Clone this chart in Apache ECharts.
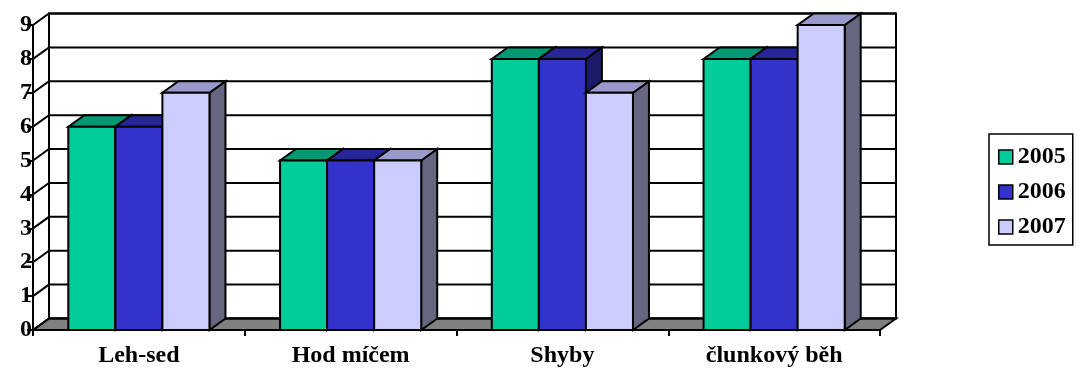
<!DOCTYPE html>
<html>
<head>
<meta charset="utf-8">
<script src="https://cdn.jsdelivr.net/npm/echarts@6/dist/echarts.min.js"></script>
<style>
  html, body { margin: 0; padding: 0; background: #fff; }
  #chart { width: 1079px; height: 371px; }
</style>
</head>
<body>
<div id="chart"></div>
<script>
// Test results per discipline and year
const categories = ['Leh-sed', 'Hod míčem', 'Shyby', 'člunkový běh'];
const years = ['2005', '2006', '2007'];
const values2005 = [6, 5, 8, 8];
const values2006 = [6, 5, 8, 8];
const values2007 = [7, 5, 7, 9];
const yTicks = [0, 1, 2, 3, 4, 5, 6, 7, 8, 9];

// Face colours: front, top, side
const palettes = [
  { front: '#00CC99', top: '#009973', side: '#00664D' },
  { front: '#3333CC', top: '#262699', side: '#1A1A66' },
  { front: '#CCCCFF', top: '#9999CC', side: '#666680' }
];

// Depth offset of the 3D projection (pixels)
const DX = 16;
const DY = -11.5;
const LW = 2;
const FONT = 'Liberation Serif, Times New Roman, serif';

const chart = echarts.init(document.getElementById('chart'), null, { renderer: 'canvas' });

// Back wall, floor and gridlines (one gridline per tick value)
function wallRender(params, api) {
  const cs = params.coordSys;
  const L = cs.x, R = cs.x + cs.width;
  const bottom = api.coord([0, 0])[1];
  const top = cs.y;
  const y = api.coord([0, api.value(0)])[1];
  const children = [];
  if (params.dataIndex === 0) {
    children.push({
      type: 'polygon',
      shape: { points: [[L + DX, top + DY], [R + DX, top + DY], [R + DX, bottom + DY], [L + DX, bottom + DY]] },
      style: { fill: '#ffffff', stroke: '#000', lineWidth: LW }
    });
    children.push({
      type: 'polygon',
      shape: { points: [[L, bottom], [R, bottom], [R + DX, bottom + DY], [L + DX, bottom + DY]] },
      style: { fill: '#808080', stroke: '#000', lineWidth: LW }
    });
  }
  children.push({
    type: 'polyline',
    shape: { points: [[L, y], [L + DX, y + DY], [R + DX, y + DY]] },
    style: { fill: null, stroke: '#000', lineWidth: LW }
  });
  return { type: 'group', children };
}

function barRender(idx) {
  const pal = palettes[idx];
  return function (params, api) {
    const cat = api.value(0);
    const v = api.value(1);
    const base = api.coord([cat, 0]);
    const topPt = api.coord([cat, v]);
    const band = api.size([1, 0])[0];
    const w = band / 4.5;
    const x0 = base[0] - 1.5 * w + idx * w;
    const x1 = x0 + w;
    const yb = base[1], yt = topPt[1];
    const stroke = { stroke: '#000', lineWidth: LW, lineJoin: 'miter' };
    return {
      type: 'group',
      children: [
        { type: 'polygon', shape: { points: [[x1, yt], [x1 + DX, yt + DY], [x1 + DX, yb + DY], [x1, yb]] },
          style: Object.assign({ fill: pal.side }, stroke) },
        { type: 'polygon', shape: { points: [[x0, yt], [x1, yt], [x1 + DX, yt + DY], [x0 + DX, yt + DY]] },
          style: Object.assign({ fill: pal.top }, stroke) },
        { type: 'polygon', shape: { points: [[x0, yb], [x0, yt], [x1, yt], [x1, yb]] },
          style: Object.assign({ fill: pal.front }, stroke) }
      ]
    };
  };
}

const seriesValues = [values2005, values2006, values2007];

const option = {
  animation: false,
  backgroundColor: '#ffffff',
  grid: { left: 33, right: 199, top: 25, bottom: 41, containLabel: false },
  xAxis: {
    type: 'category',
    data: categories,
    boundaryGap: true,
    axisLine: { show: true, lineStyle: { color: '#000', width: LW } },
    axisTick: { show: true, length: 6, lineStyle: { color: '#000', width: LW } },
    axisLabel: { color: '#000', fontFamily: FONT, fontWeight: 'bold', fontSize: 24, margin: 14 },
    splitLine: { show: false }
  },
  yAxis: {
    type: 'value',
    min: yTicks[0],
    max: yTicks[yTicks.length - 1],
    interval: 1,
    axisLine: { show: true, lineStyle: { color: '#000', width: LW } },
    axisTick: { show: true, length: 6, lineStyle: { color: '#000', width: LW } },
    axisLabel: { color: '#000', fontFamily: FONT, fontWeight: 'bold', fontSize: 24, margin: 1 },
    splitLine: { show: false }
  },
  legend: {
    orient: 'vertical',
    left: 989,
    top: 134,
    padding: [11, 7, 6, 9],
    itemGap: 11,
    itemWidth: 14,
    itemHeight: 14,
    borderColor: '#000',
    borderWidth: 1.5,
    backgroundColor: '#fff',
    icon: 'rect',
    textStyle: { color: '#000', fontFamily: FONT, fontWeight: 'bold', fontSize: 24 },
    data: years.map((y, i) => ({
      name: y,
      itemStyle: { color: palettes[i].front, borderColor: '#000', borderWidth: 1.5 }
    }))
  },
  series: [
    {
      type: 'custom',
      name: 'wall',
      z: 1,
      silent: true,
      renderItem: wallRender,
      encode: { y: 0 },
      data: yTicks.map(t => [t])
    }
  ].concat(years.map((y, i) => ({
    type: 'custom',
    name: y,
    z: 2 + i,
    itemStyle: { color: palettes[i].front },
    renderItem: barRender(i),
    encode: { x: 0, y: 1 },
    data: seriesValues[i].map((v, c) => [c, v])
  })))
};

chart.setOption(option);
</script>
</body>
</html>
